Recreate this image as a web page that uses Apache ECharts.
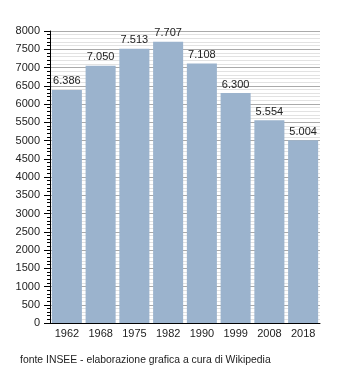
<!DOCTYPE html>
<html><head><meta charset="utf-8">
<script src="https://cdn.jsdelivr.net/npm/echarts@6/dist/echarts.min.js"></script>
<style>html,body{margin:0;padding:0;background:#fff}#c{width:350px;height:373px}</style>
</head><body><div id="c"></div>
<script>
const categories = ['1962','1968','1975','1982','1990','1999','2008','2018'];
const values = [6386, 7050, 7513, 7707, 7108, 6300, 5554, 5004];
const footer = 'fonte INSEE - elaborazione grafica a cura di Wikipedia';
const fmt = v => String(v).replace(/\B(?=(\d{3})+(?!\d))/g, '.');
const chart = echarts.init(document.getElementById('c'));
chart.setOption({
  animation: false,
  textStyle: {fontFamily: 'Liberation Sans'},
  grid: {left: 50, right: 30, top: 31, bottom: 50},
  graphic: [{type: 'text', left: 20, top: 355, style: {text: footer, fontSize: 10.4, fill: '#222', fontFamily: 'Liberation Sans'}}],
  xAxis: {
    type: 'category', data: categories,
    axisLine: {lineStyle: {color: '#000', width: 1}},
    axisTick: {show: false},
    axisLabel: {color: '#222', fontSize: 11, margin: 5}
  },
  yAxis: {
    type: 'value', min: 0, max: 8000, interval: 500,
    axisLine: {show: true, lineStyle: {color: '#000'}},
    axisTick: {show: true, length: 6, lineStyle: {color: '#000'}},
    minorTick: {show: true, splitNumber: 5, length: 3, lineStyle: {color: '#000'}},
    splitLine: {lineStyle: {color: '#aaa'}},
    minorSplitLine: {show: true, lineStyle: {color: '#e2e2e2'}},
    axisLabel: {color: '#222', fontSize: 11, margin: 10, formatter: v => String(v)}
  },
  series: [{
    type: 'bar', data: values, barCategoryGap: '11%',
    itemStyle: {color: '#9bb3cd'},
    label: {show: true, position: 'top', color: '#222', fontSize: 11, distance: 3, formatter: p => fmt(p.value)}
  }]
});
</script></body></html>
